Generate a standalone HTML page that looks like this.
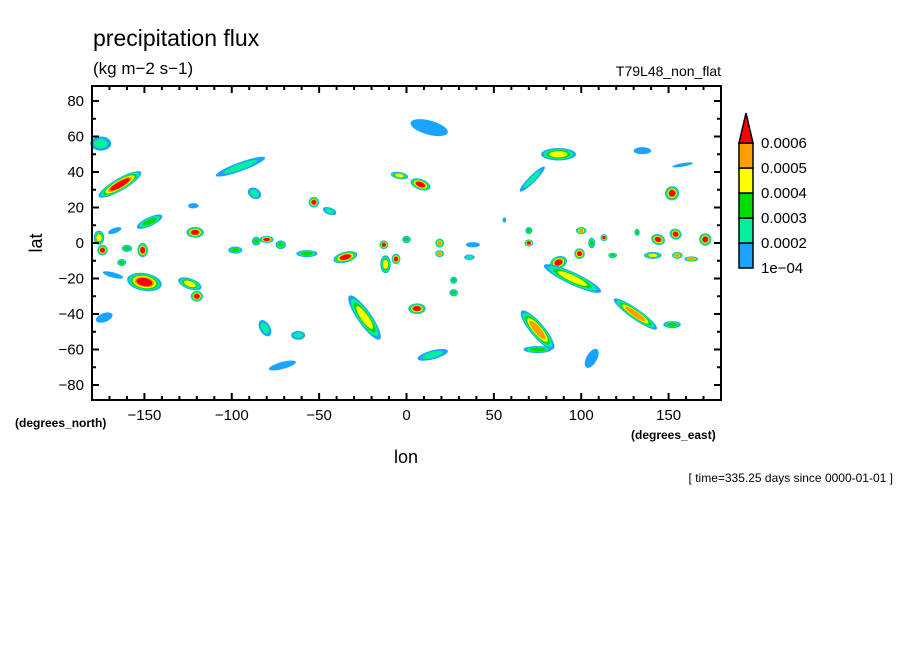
<!DOCTYPE html>
<html><head><meta charset="utf-8"><style>
body{margin:0;background:#fff;}
svg{display:block;font-family:"Liberation Sans",sans-serif;}
</style></head><body>
<svg id="chart" width="904" height="654" viewBox="0 0 904 654">
<rect width="904" height="654" fill="#fff"/>
<g id="blobs"></g>
<g id="axes"></g>
<text x="93" y="46" font-size="23">precipitation flux</text>
<text x="93" y="74" font-size="17">(kg m−2 s−1)</text>
<text x="721" y="76" font-size="14" text-anchor="end">T79L48_non_flat</text>
<text x="42" y="243" font-size="18" text-anchor="middle" transform="rotate(-90 42 243)">lat</text>
<text x="406" y="463" font-size="18" text-anchor="middle">lon</text>
<text x="15" y="427" font-size="12" font-weight="bold">(degrees_north)</text>
<text x="631" y="439" font-size="12" font-weight="bold">(degrees_east)</text>
<text x="893" y="482" font-size="12" text-anchor="end">[ time=335.25 days since 0000-01-01 ]</text>
<g id="cbar"></g>
</svg>
<script>
const levelColors=["#19a5ff","#00f0a0","#00dc00","#ffff00","#ffa000","#ff0000"];
const levelLabels=["1e-04","0.0002","0.0003","0.0004","0.0005","0.0006"];
const yTicks=[-80,-60,-40,-20,0,20,40,60,80];
const xTicks=[-150,-100,-50,0,50,100,150];
const blobLon=[-175,-164,-95,-87,-122,-147,-176,-174,-167,-160,-151,-163,-150,-168,-124,-120,-121,-98,-86,-80,-72,-57,-35,-12,-13,-6,0,-53,-44,-4,-24,-81,-62,-71,-173,
 13,8,87,72,135,158,152,56,70,70,100,113,106,132,144,154,171,99,87,141,155,163,118,19,19,27,27,6,95,131,152,75,75,15,106,38,36];
const blobLat=[56,33,43,28,21,12,3,-4,7,-3,-4,-11,-22,-18,-23,-30,6,-4,1,2,-1,-6,-8,-12,-1,-9,2,23,18,38,-42,-48,-52,-69,-42,
 65,33,50,36,52,44,28,13,7,0,7,3,0,6,2,5,2,-6,-11,-7,-7,-9,-7,0,-6,-21,-28,-37,-20,-40,-46,-49,-60,-63,-65,-1,-8];
const blobPeak=[2,6,2,2,1,3,4,6,1,3,6,3,6,1,4,6,6,3,3,6,3,3,6,4,6,6,3,6,2,4,4,2,2,1,1,
 1,6,4,2,1,1,6,1,3,6,5,6,3,3,6,6,6,6,6,4,5,5,3,5,5,3,3,6,4,5,3,5,3,2,1,1,2];
const blobSpanLon=[12,28,30,6,6,16,6,6,8,6,6,5,20,12,14,7,10,8,5,8,6,12,14,6,5,5,5,6,8,10,8,6,8,16,10,
 22,12,20,20,10,12,8,2,4,5,6,4,4,3,8,7,7,6,10,10,6,8,5,5,5,4,5,10,36,30,10,8,16,18,6,8,6];
const blobSpanLat=[8,7,5,8,3,5,8,6,3,4,8,4,10,3,6,6,6,4,5,4,5,4,6,10,5,6,4,6,4,4,30,10,5,4,5,
 8,6,7,4,4,2,8,3,4,4,4,4,6,4,6,6,7,6,7,4,4,3,3,5,4,4,4,6,7,6,4,28,4,5,12,3,3];
const blobTilt=[0,-30,-20,-60,0,-25,0,0,-20,0,0,0,10,15,20,0,0,0,0,0,0,0,-15,0,0,0,0,0,20,10,-35,-30,0,-15,-20,
 15,20,0,-45,0,-10,30,0,0,0,0,0,0,0,20,20,0,0,-20,0,0,0,0,0,0,0,0,0,25,35,0,-40,0,-15,30,0,0];

const X0=92,X1=721,Y0=86,Y1=400;
const xs=lon=>X0+(lon+180)/360*(X1-X0);
const ys=lat=>243-lat*1.775;
const NS="http://www.w3.org/2000/svg";
const bg=document.getElementById('blobs');
for(let i=0;i<blobLon.length;i++){
  const cx=xs(blobLon[i]),cy=ys(blobLat[i]);
  const rx=blobSpanLon[i]/2*(X1-X0)/360, ry=blobSpanLat[i]/2*1.775;
  const p=blobPeak[i];
  for(let k=0;k<p;k++){
    const f=1-k/p*0.65;
    const e=document.createElementNS(NS,'ellipse');
    e.setAttribute('cx',cx);e.setAttribute('cy',cy);
    e.setAttribute('rx',Math.max(1.5,rx*f));e.setAttribute('ry',Math.max(1.5,ry*f));
    e.setAttribute('fill',levelColors[k]);
    e.setAttribute('transform','rotate('+blobTilt[i]+' '+cx+' '+cy+')');
    
    
    bg.appendChild(e);
  }
}
const ax=document.getElementById('axes');
function add(parent,tag,attrs,name,txt){
  const e=document.createElementNS(NS,tag);
  for(const k in attrs)e.setAttribute(k,attrs[k]);
  
  
  if(txt!==undefined)e.textContent=txt;
  parent.appendChild(e);return e;
}
add(ax,'rect',{x:X0,y:Y0,width:X1-X0,height:Y1-Y0,fill:'none',stroke:'#000','stroke-width':2},'plot-frame');
for(let lon=-170;lon<=170;lon+=10){
  const big=lon%50===0, L=big?7:4, x=xs(lon);
  add(ax,'line',{x1:x,x2:x,y1:Y1,y2:Y1-L,stroke:'#000','stroke-width':2},'x-tick');
  add(ax,'line',{x1:x,x2:x,y1:Y0,y2:Y0+L,stroke:'#000','stroke-width':2},'x-tick');
}
for(let lat=-80;lat<=80;lat+=10){
  const big=lat%20===0, L=big?7:4, y=ys(lat);
  add(ax,'line',{x1:X0,x2:X0+L,y1:y,y2:y,stroke:'#000','stroke-width':2},'y-tick');
  add(ax,'line',{x1:X1,x2:X1-L,y1:y,y2:y,stroke:'#000','stroke-width':2},'y-tick');
}
yTicks.forEach(v=>add(ax,'text',{x:84,y:ys(v)+5,'font-size':15,'text-anchor':'end'},'y-tick-label',String(v).replace('-','−')));
xTicks.forEach(v=>add(ax,'text',{x:xs(v),y:420,'font-size':15,'text-anchor':'middle'},'x-tick-label',String(v).replace('-','−')));
const cb=document.getElementById('cbar');
const cbx=739,cbw=14,cbTop=143,cbh=25;
for(let k=0;k<5;k++){
  const y=cbTop+(4-k)*cbh;
  add(cb,'rect',{x:cbx,y:y,width:cbw,height:cbh,fill:levelColors[k],stroke:'#000','stroke-width':1.5},'colorbar-swatch');
}
add(cb,'polygon',{points:`${cbx},${cbTop} ${cbx+cbw},${cbTop} ${cbx+cbw/2},${cbTop-30}`,fill:levelColors[5],stroke:'#000','stroke-width':1.5},'colorbar-extend-arrow');
for(let k=0;k<6;k++){
  add(cb,'text',{x:761,y:cbTop+(5-k)*cbh+5,'font-size':15},'colorbar-label',levelLabels[k].replace('-','−'));
}
</script>
</body></html>
